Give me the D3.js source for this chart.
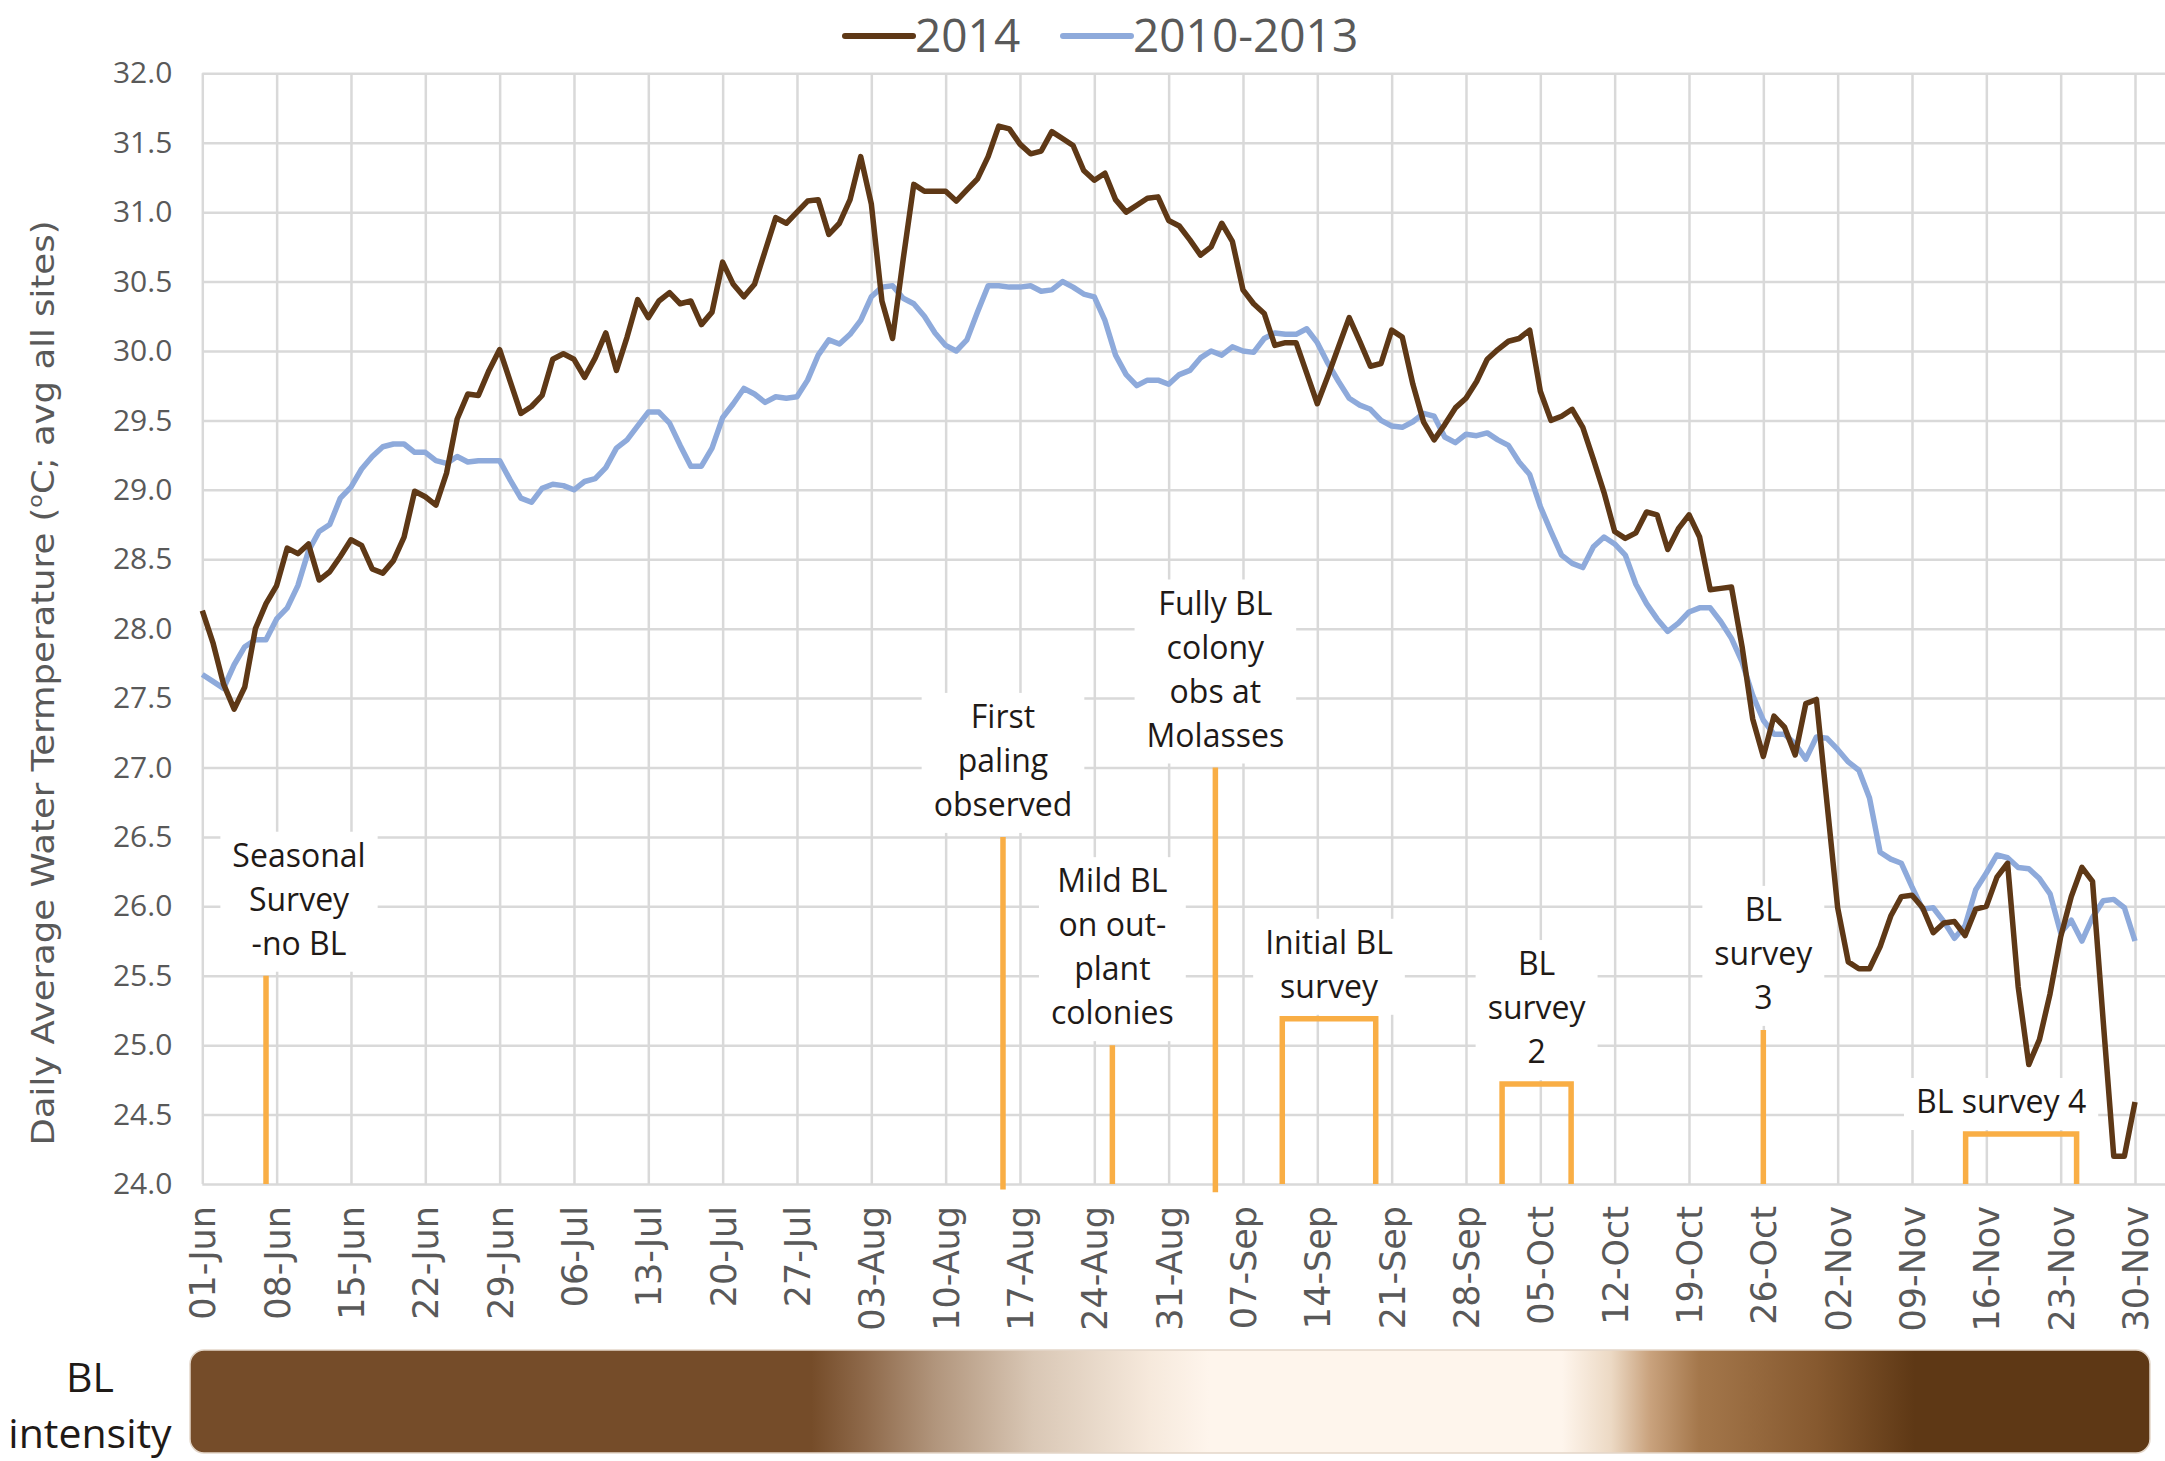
<!DOCTYPE html>
<html>
<head>
<meta charset="utf-8">
<script src="https://cdn.jsdelivr.net/npm/d3@7"></script>
<style>
  body { margin: 0; background: #fff; }
  #chart { width: 2165px; height: 1461px; }
</style>
</head>
<body>
<div id="chart"></div>
<script>
// categories: one value per day from 01-Jun-2014
var startDate = new Date(2014, 5, 1);
var dayCount = 183;
var weekTicks = d3.range(0, dayCount, 7);
var yTicks = d3.range(24, 32.01, 0.5);

var seriesNames = ['2014', '2010-2013'];

var temps2014 = [
  28.13, 27.90, 27.60, 27.42, 27.58, 28.00, 28.18, 28.31, 28.58, 28.54,
  28.61, 28.35, 28.41, 28.52, 28.64, 28.60, 28.43, 28.40, 28.49, 28.66,
  28.99, 28.95, 28.89, 29.12, 29.51, 29.69, 29.68, 29.86, 30.01, 29.78,
  29.55, 29.60, 29.68, 29.94, 29.98, 29.94, 29.81, 29.95, 30.13, 29.86,
  30.10, 30.37, 30.24, 30.36, 30.42, 30.34, 30.36, 30.19, 30.28, 30.64,
  30.48, 30.39, 30.48, 30.72, 30.96, 30.92, 31.00, 31.08, 31.09, 30.84,
  30.92, 31.09, 31.40, 31.06, 30.36, 30.09, 30.66, 31.20, 31.15, 31.15,
  31.15, 31.08, 31.16, 31.24, 31.40, 31.62, 31.60, 31.49, 31.42, 31.44,
  31.58, 31.53, 31.48, 31.30, 31.23, 31.28, 31.09, 31.00, 31.05, 31.10,
  31.11, 30.94, 30.90, 30.80, 30.69, 30.75, 30.92, 30.79, 30.44, 30.34,
  30.27, 30.04, 30.06, 30.06, 29.84, 29.62, 29.82, 30.03, 30.24, 30.07,
  29.89, 29.91, 30.15, 30.10, 29.76, 29.49, 29.36, 29.47, 29.59, 29.66,
  29.78, 29.94, 30.01, 30.07, 30.09, 30.15, 29.71, 29.50, 29.53, 29.58,
  29.45, 29.22, 28.98, 28.70, 28.65, 28.69, 28.84, 28.82, 28.57, 28.72,
  28.82, 28.66, 28.28, 28.29, 28.30, 27.87, 27.35, 27.08, 27.37, 27.29,
  27.09, 27.46, 27.49, 26.74, 25.99, 25.60, 25.55, 25.55, 25.71, 25.93,
  26.07, 26.08, 25.99, 25.81, 25.88, 25.89, 25.79, 25.98, 26.00, 26.21,
  26.31, 25.42, 24.86, 25.04, 25.37, 25.78, 26.07, 26.28, 26.18, 25.18,
  24.20, 24.20, 24.59
];

var temps2010_2013 = [
  27.67, 27.62, 27.57, 27.74, 27.87, 27.92, 27.92, 28.07, 28.15, 28.31,
  28.56, 28.70, 28.75, 28.94, 29.02, 29.15, 29.24, 29.31, 29.33, 29.33,
  29.27, 29.27, 29.21, 29.19, 29.24, 29.20, 29.21, 29.21, 29.21, 29.07,
  28.94, 28.91, 29.01, 29.04, 29.03, 29.00, 29.06, 29.08, 29.16, 29.30,
  29.36, 29.46, 29.56, 29.56, 29.48, 29.32, 29.17, 29.17, 29.30, 29.52,
  29.62, 29.73, 29.69, 29.63, 29.67, 29.66, 29.67, 29.79, 29.97, 30.08,
  30.05, 30.12, 30.22, 30.39, 30.46, 30.47, 30.38, 30.34, 30.25, 30.13,
  30.04, 30.00, 30.08, 30.28, 30.47, 30.47, 30.46, 30.46, 30.47, 30.43,
  30.44, 30.50, 30.46, 30.41, 30.39, 30.22, 29.97, 29.83, 29.75, 29.79,
  29.79, 29.76, 29.83, 29.86, 29.95, 30.00, 29.97, 30.03, 30.00, 29.99,
  30.09, 30.13, 30.12, 30.12, 30.16, 30.06, 29.91, 29.78, 29.66, 29.61,
  29.58, 29.50, 29.46, 29.45, 29.49, 29.55, 29.53, 29.38, 29.34, 29.40,
  29.39, 29.41, 29.36, 29.32, 29.20, 29.11, 28.88, 28.70, 28.53, 28.47,
  28.44, 28.59, 28.66, 28.61, 28.53, 28.32, 28.18, 28.07, 27.98, 28.04,
  28.12, 28.15, 28.15, 28.05, 27.93, 27.76, 27.52, 27.34, 27.24, 27.24,
  27.17, 27.06, 27.22, 27.21, 27.13, 27.04, 26.98, 26.78, 26.39, 26.34,
  26.31, 26.14, 25.98, 25.99, 25.89, 25.77, 25.86, 26.12, 26.24, 26.37,
  26.35, 26.28, 26.27, 26.20, 26.09, 25.81, 25.90, 25.75, 25.92, 26.04,
  26.05, 25.99, 25.75
];

// single-day events: day index, top of the marker (deg C)
var eventMarkers = [
  { lines: ['Seasonal', 'Survey', '-no BL'], day: 6.0, top: 25.5, bottom: 24.0 },
  { lines: ['First', 'paling', 'observed'], day: 75.4, top: 26.5, bottom: 23.96 },
  { lines: ['Mild BL', 'on out-', 'plant', 'colonies'], day: 85.7, top: 25.0, bottom: 24.0 },
  { lines: ['Fully BL', 'colony', 'obs at', 'Molasses'], day: 95.4, top: 27.0, bottom: 23.94 },
  { lines: ['BL', 'survey', '3'], day: 147.0, top: 25.11, bottom: 24.0 }
];

// survey periods: first and last day, top of the bracket
var surveyBrackets = [
  { lines: ['Initial BL', 'survey'], from: 101.7, to: 110.5, top: 25.19 },
  { lines: ['BL', 'survey', '2'], from: 122.4, to: 128.9, top: 24.72 },
  { lines: ['BL survey 4'], from: 166.05, to: 176.5, top: 24.36 }
];

// BL intensity colour ramp along the date range
var intensityStops = [
  [0.000, '#754c29'], [0.317, '#754c29'], [0.345, '#8f6a4b'], [0.380, '#b1957c'],
  [0.430, '#d9c7b5'], [0.490, '#f6e9dc'], [0.520, '#fef5ec'], [0.700, '#fef5ec'],
  [0.725, '#ecd9c4'], [0.745, '#c9a27d'], [0.770, '#a4774b'], [0.830, '#86592f'],
  [0.880, '#5e3815'], [1.000, '#5e3815']
];

var TempChart = function(_id) {

  var that = this;

  that.id = _id;
  that.widthCont = 2165;
  that.heightCont = 1461;
  that.plot = { left: 202.3, right: 2135, top: 73.3, bottom: 1184 };

  that.colors = { y2014: '#5e3816', y1013: '#8eaadb', grid: '#d9d9d9', event: '#f9ae45', axisText: '#595959' };

  that.init = function() {

    that.x = d3.scaleLinear()
      .domain([0, dayCount - 1])
      .range([that.plot.left, that.plot.right]);

    that.y = d3.scaleLinear()
      .domain([24, 32])
      .range([that.plot.bottom, that.plot.top]);

    that.svg = d3.select('#' + that.id).append('svg')
      .attr('width', that.widthCont)
      .attr('height', that.heightCont)
      .style('font-family', '"Open Sans", "Noto Sans", sans-serif');

    that.svg.append('rect')
      .attr('width', that.widthCont)
      .attr('height', that.heightCont)
      .attr('fill', '#fff');

    drawGrid();
    drawAxes();
    drawEvents();
    drawLines();
    drawLegend();
    drawIntensity();

    return that;
  };

  var drawGrid = function() {
    // vertical grid lines, one per week
    that.svg.append('g')
      .attr('class', 'x grid')
      .attr('transform', 'translate(0,' + that.plot.bottom + ')')
      .call(d3.axisBottom(that.x).tickValues(weekTicks).tickSize(-(that.plot.bottom - that.plot.top)).tickFormat(''))
      .call(function(g) { g.select('.domain').remove(); })
      .selectAll('line')
      .attr('stroke', that.colors.grid)
      .attr('stroke-width', 2.5);

    // horizontal grid lines run out to the right edge
    that.svg.append('g')
      .attr('class', 'y grid')
      .attr('transform', 'translate(' + that.plot.left + ',0)')
      .call(d3.axisLeft(that.y).tickValues(yTicks).tickSize(-(that.widthCont - that.plot.left)).tickFormat(''))
      .call(function(g) { g.select('.domain').remove(); })
      .selectAll('line')
      .attr('stroke', that.colors.grid)
      .attr('stroke-width', 2.5);
  };

  var drawAxes = function() {
    var fmt = d3.timeFormat('%d-%b');

    var yAxis = that.svg.append('g')
      .attr('class', 'y axis')
      .attr('transform', 'translate(' + that.plot.left + ',0)')
      .call(d3.axisLeft(that.y).tickValues(yTicks).tickSize(0).tickPadding(30).tickFormat(d3.format('.1f')));
    yAxis.select('.domain').remove();
    yAxis.selectAll('text')
      .attr('fill', that.colors.axisText)
      .style('font-size', '30px')
      .style('font-family', '"Open Sans", sans-serif');

    var xAxis = that.svg.append('g')
      .attr('class', 'x axis')
      .attr('transform', 'translate(0,' + that.plot.bottom + ')')
      .call(d3.axisBottom(that.x).tickValues(weekTicks).tickSize(0)
        .tickFormat(function(i) { return fmt(d3.timeDay.offset(startDate, i)); }));
    xAxis.select('.domain').remove();
    xAxis.selectAll('text')
      .attr('fill', that.colors.axisText)
      .attr('transform', 'rotate(-90)')
      .attr('x', -22)
      .attr('y', 0)
      .attr('dy', '0.36em')
      .style('text-anchor', 'end')
      .style('font-size', '35px')
      .style('font-family', '"DejaVu Sans", Verdana, sans-serif');

    // axis title
    var title = that.svg.append('text')
      .attr('transform', 'translate(43,683) rotate(-90)')
      .attr('text-anchor', 'middle')
      .attr('dy', '0.35em')
      .attr('fill', that.colors.axisText)
      .attr('textLength', 925)
      .attr('lengthAdjust', 'spacingAndGlyphs')
      .style('font-size', '32px')
      .style('font-family', '"DejaVu Sans", Verdana, sans-serif');
    title.append('tspan').text('Daily Average Water Termperature (');
    title.append('tspan').attr('baseline-shift', 'super').style('font-size', '20px').text('o');
    title.append('tspan').text('C; avg all sites)');
  };

  var labelNudge = { 'Seasonal': 33, 'BL survey 4': -20 };

  var drawLabel = function(lines, cx, topTemp) {
    var lineGap = 44;
    var lastY = that.y(topTemp) - 32;
    var firstY = lastY - (lines.length - 1) * lineGap;
    cx += labelNudge[lines[0]] || 0;

    var g = that.svg.append('g').attr('class', 'event-label');
    var box = g.append('rect').attr('fill', '#fff');
    var txt = g.selectAll('text')
      .data(lines)
    .enter().append('text')
      .attr('x', cx)
      .attr('y', function(d, i) { return firstY + i * lineGap; })
      .attr('dy', '0.35em')
      .attr('text-anchor', 'middle')
      .attr('fill', '#1f1a17')
      .style('font-size', '32px')
      .text(function(d) { return d; });

    var w = d3.max(txt.nodes(), function(n) { return n.getComputedTextLength(); });
    box.attr('x', cx - w / 2 - 12)
      .attr('y', firstY - 24)
      .attr('width', w + 24)
      .attr('height', lastY - firstY + 52);
  };

  var drawEvents = function() {
    var ev = that.svg.append('g').attr('class', 'events');

    ev.selectAll('.marker')
      .data(eventMarkers)
    .enter().append('line')
      .attr('class', 'marker')
      .attr('x1', function(d) { return that.x(d.day); })
      .attr('x2', function(d) { return that.x(d.day); })
      .attr('y1', function(d) { return that.y(d.bottom); })
      .attr('y2', function(d) { return that.y(d.top); })
      .attr('stroke', that.colors.event)
      .attr('stroke-width', 5.5);

    ev.selectAll('.bracket')
      .data(surveyBrackets)
    .enter().append('path')
      .attr('class', 'bracket')
      .attr('d', function(d) {
        return 'M' + that.x(d.from) + ',' + that.y(24) +
          'V' + that.y(d.top) + 'H' + that.x(d.to) + 'V' + that.y(24);
      })
      .attr('fill', 'none')
      .attr('stroke', that.colors.event)
      .attr('stroke-width', 5.5);

    eventMarkers.forEach(function(d) { drawLabel(d.lines, that.x(d.day), d.top); });
    surveyBrackets.forEach(function(d) { drawLabel(d.lines, (that.x(d.from) + that.x(d.to)) / 2, d.top); });
  };

  var drawLines = function() {
    var line = d3.line()
      .x(function(d, i) { return that.x(i); })
      .y(function(d) { return that.y(d); });

    that.svg.append('path')
      .datum(temps2010_2013)
      .attr('class', 'line y1013')
      .attr('d', line)
      .attr('fill', 'none')
      .attr('stroke', that.colors.y1013)
      .attr('stroke-width', 5.5)
      .attr('stroke-linejoin', 'round');

    that.svg.append('path')
      .datum(temps2014)
      .attr('class', 'line y2014')
      .attr('d', line)
      .attr('fill', 'none')
      .attr('stroke', that.colors.y2014)
      .attr('stroke-width', 5.5)
      .attr('stroke-linejoin', 'round');
  };

  var drawLegend = function() {
    var items = [
      { name: seriesNames[0], color: that.colors.y2014, x: 845 },
      { name: seriesNames[1], color: that.colors.y1013, x: 1063 }
    ];
    var g = that.svg.append('g').attr('class', 'legend');
    items.forEach(function(d) {
      g.append('line')
        .attr('x1', d.x).attr('x2', d.x + 68)
        .attr('y1', 36).attr('y2', 36)
        .attr('stroke', d.color)
        .attr('stroke-width', 6)
        .attr('stroke-linecap', 'round');
      g.append('text')
        .attr('x', d.x + 70)
        .attr('y', 52)
        .attr('fill', that.colors.axisText)
        .style('font-size', '46px')
        .text(d.name);
    });
  };

  var drawIntensity = function() {
    var grad = that.svg.append('defs').append('linearGradient')
      .attr('id', 'bl-ramp')
      .attr('x1', '0%').attr('x2', '100%');
    grad.selectAll('stop')
      .data(intensityStops)
    .enter().append('stop')
      .attr('offset', function(d) { return d[0]; })
      .attr('stop-color', function(d) { return d[1]; });

    that.svg.append('rect')
      .attr('x', 190).attr('y', 1350)
      .attr('width', 1960).attr('height', 103)
      .attr('rx', 14).attr('ry', 14)
      .attr('fill', 'url(#bl-ramp)')
      .attr('stroke', '#e3d6c9')
      .attr('stroke-width', 1.5);

    that.svg.selectAll('.bl-title')
      .data(['BL', 'intensity'])
    .enter().append('text')
      .attr('class', 'bl-title')
      .attr('x', 90)
      .attr('y', function(d, i) { return 1378 + i * 56; })
      .attr('dy', '0.35em')
      .attr('text-anchor', 'middle')
      .attr('fill', '#1f1a17')
      .style('font-size', '41px')
      .text(function(d) { return d; });
  };

  return that;
};

var chart = new TempChart('chart').init();
</script>
</body>
</html>
